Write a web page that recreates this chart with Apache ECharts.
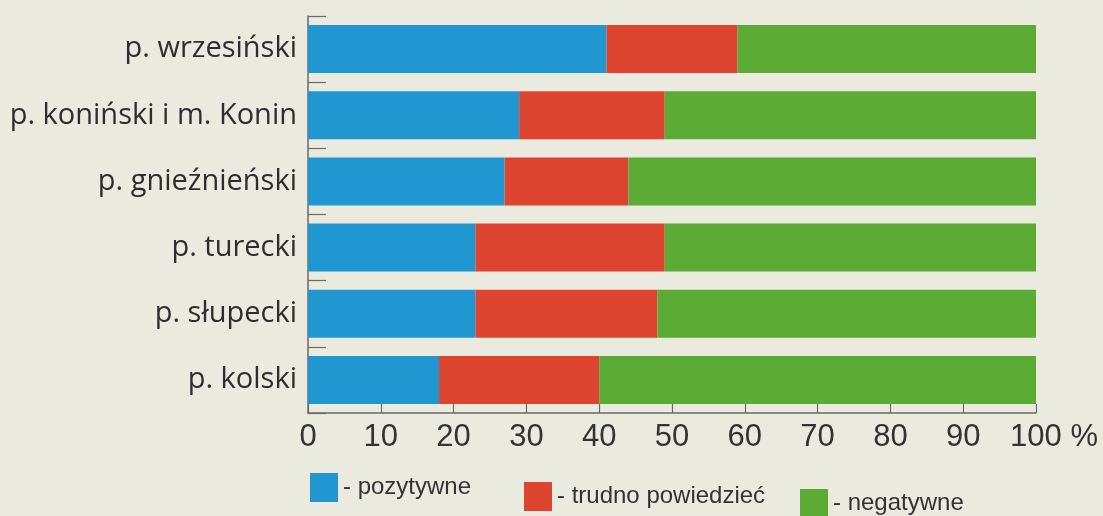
<!DOCTYPE html>
<html>
<head>
<meta charset="utf-8">
<script src="https://cdn.jsdelivr.net/npm/echarts@6/dist/echarts.min.js"></script>
<style>
  html, body { margin: 0; padding: 0; background: #eaeadf; }
  #chart { width: 1103px; height: 516px; }
</style>
</head>
<body>
<div id="chart"></div>
<script>
// Data
const categories = ['p. wrzesiński', 'p. koniński i m. Konin', 'p. gnieźnieński', 'p. turecki', 'p. słupecki', 'p. kolski']
const pozytywne = [41, 29, 27, 23, 23, 18]
const trudno = [18, 20, 17, 26, 25, 22]
const negatywne = [41, 51, 56, 51, 52, 60]
const xTicks = [0, 10, 20, 30, 40, 50, 60, 70, 80, 90, 100]

const axisColor = '#6b6b6b'
const sans = '"Liberation Sans", sans-serif'

const chart = echarts.init(document.getElementById('chart'))

const legendText = {
  fontFamily: sans,
  fontSize: 24,
  color: '#333',
}
const legendBase = {
  icon: 'rect',
  itemWidth: 28,
  itemHeight: 29,
  itemGap: 8,
  formatter: '- {name}',
  textStyle: legendText,
}

chart.setOption({
  animation: false,
  backgroundColor: '#eaeadf',
  grid: {
    left: 308,
    right: 67,
    top: 16,
    bottom: 103,
  },
  legend: [
    Object.assign({ data: ['pozytywne'], left: 305, top: 468 }, legendBase),
    Object.assign({ data: ['trudno powiedzieć'], left: 519, top: 477 }, legendBase),
    Object.assign({ data: ['negatywne'], left: 795, top: 484 }, legendBase),
  ],
  xAxis: {
    type: 'value',
    min: xTicks[0],
    max: xTicks[xTicks.length - 1],
    interval: 10,
    splitLine: { show: false },
    axisLine: { show: true, lineStyle: { color: axisColor, width: 1.5 } },
    axisTick: { show: true, inside: true, length: 9, lineStyle: { color: axisColor, width: 1.2 } },
    axisLabel: {
      margin: 9,
      fontFamily: sans,
      fontSize: 31,
      color: '#333',
      showMaxLabel: true,
      formatter: (v) => (v === 100 ? '{last|100 %}' : String(v)),
      rich: {
        last: { fontFamily: sans, fontSize: 31, color: '#333', padding: [0, 0, 0, 36] },
      },
    },
  },
  yAxis: {
    type: 'category',
    inverse: true,
    data: categories,
    axisLine: { show: true, lineStyle: { color: axisColor, width: 1.5 } },
    axisTick: { show: true, inside: true, length: 18, lineStyle: { color: axisColor, width: 1.2 } },
    axisLabel: {
      margin: 11,
      fontFamily: '"Open Sans", "Noto Sans", sans-serif',
      fontSize: 29,
      color: '#2e2e2e',
    },
  },
  series: [
    {
      name: 'pozytywne',
      type: 'bar',
      stack: 'all',
      barWidth: '72.5%',
      itemStyle: { color: '#2097d0' },
      data: pozytywne,
    },
    {
      name: 'trudno powiedzieć',
      type: 'bar',
      stack: 'all',
      itemStyle: { color: '#de4530' },
      data: trudno,
    },
    {
      name: 'negatywne',
      type: 'bar',
      stack: 'all',
      itemStyle: { color: '#5bab35' },
      data: negatywne,
    },
  ],
})
</script>
</body>
</html>
